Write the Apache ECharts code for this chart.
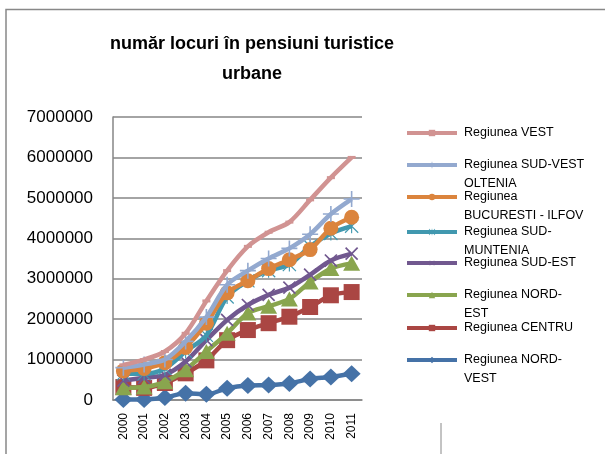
<!DOCTYPE html>
<html>
<head>
<meta charset="utf-8">
<script src="https://cdn.jsdelivr.net/npm/echarts@6/dist/echarts.min.js"></script>
<style>html,body{margin:0;padding:0;background:#fff;}#c{width:605px;height:454px;}</style>
</head>
<body>
<div id="c"></div>
<script>
var categories = ['2000','2001','2002','2003','2004','2005','2006','2007','2008','2009','2010','2011'];
var yTicks = [0, 1000000, 2000000, 3000000, 4000000, 5000000, 6000000, 7000000];

var nordVest    = [10000, 15000, 60000, 170000, 140000, 290000, 360000, 370000, 410000, 520000, 570000, 650000];
var centru      = [320000, 300000, 420000, 660000, 980000, 1480000, 1730000, 1900000, 2060000, 2300000, 2590000, 2670000];
var nordEst     = [300000, 320000, 450000, 750000, 1200000, 1650000, 2150000, 2320000, 2500000, 2920000, 3250000, 3380000];
var sudEst      = [480000, 550000, 620000, 950000, 1480000, 1980000, 2350000, 2600000, 2780000, 3100000, 3450000, 3620000];
var sudMuntenia = [650000, 650000, 780000, 1200000, 1600000, 2550000, 2950000, 3200000, 3350000, 3800000, 4120000, 4300000];
var bucuresti   = [720000, 780000, 920000, 1300000, 1900000, 2650000, 2950000, 3250000, 3470000, 3720000, 4250000, 4520000];
var sudVest     = [800000, 880000, 1000000, 1450000, 2050000, 2850000, 3200000, 3500000, 3750000, 4100000, 4600000, 4970000];
var vest        = [870000, 1000000, 1200000, 1650000, 2450000, 3200000, 3800000, 4150000, 4400000, 4950000, 5500000, 6000000];

var names = ['Regiunea NORD-VEST','Regiunea CENTRU','Regiunea NORD-EST','Regiunea SUD-EST','Regiunea SUD-MUNTENIA','Regiunea BUCURESTI - ILFOV','Regiunea SUD-VEST OLTENIA','Regiunea VEST'];
var wrapped = {
  'Regiunea VEST': 'Regiunea VEST',
  'Regiunea SUD-VEST OLTENIA': 'Regiunea SUD-VEST\nOLTENIA',
  'Regiunea BUCURESTI - ILFOV': 'Regiunea\nBUCURESTI - ILFOV',
  'Regiunea SUD-MUNTENIA': 'Regiunea SUD-\nMUNTENIA',
  'Regiunea SUD-EST': 'Regiunea SUD-EST',
  'Regiunea NORD-EST': 'Regiunea NORD-\nEST',
  'Regiunea CENTRU': 'Regiunea CENTRU',
  'Regiunea NORD-VEST': 'Regiunea NORD-\nVEST'
};
var legendOrder = ['Regiunea VEST','Regiunea SUD-VEST OLTENIA','Regiunea BUCURESTI - ILFOV','Regiunea SUD-MUNTENIA','Regiunea SUD-EST','Regiunea NORD-EST','Regiunea CENTRU','Regiunea NORD-VEST'];
var legendIconY = [133, 165, 197, 232, 263, 295, 328, 360];

var plusPath = 'path://M9,0h2v9h9v2h-9v9h-2v-9h-9v-2h9z';
var starPath = 'path://M9.2,0h1.6v20h-1.6z M0,1.2L1.2,0L20,18.8L18.8,20Z M18.8,0L20,1.2L1.2,20L0,18.8Z';

var styles = [
  {data: nordVest, color: '#4572A7', symbol: 'diamond', size: [18, 17], rotate: 0},
  {data: centru, color: '#AA4643', symbol: 'rect', size: 16, rotate: 0},
  {data: nordEst, color: '#89A54E', symbol: 'triangle', size: [17, 15], rotate: 0},
  {data: sudEst, color: '#71588F', symbol: plusPath, size: 17, rotate: 45},
  {data: sudMuntenia, color: '#4198AF', symbol: starPath, size: 14, rotate: 0},
  {data: bucuresti, color: '#DB843D', symbol: 'circle', size: 15, rotate: 0},
  {data: sudVest, color: '#93A9CF', symbol: plusPath, size: 16, rotate: 0},
  {data: vest, color: '#D19392', symbol: 'rect', size: [8, 3], rotate: 0}
];

var series = styles.map(function (s, i) {
  return {
    name: names[i],
    type: 'line',
    data: s.data,
    smooth: 0.3,
    symbol: s.symbol,
    symbolSize: s.size,
    symbolRotate: s.rotate,
    showAllSymbol: true,
    lineStyle: {color: s.color, width: 4.5},
    itemStyle: {color: s.color},
    emphasis: {disabled: true},
    animation: false,
    z: 2 + i
  };
});

var legends = legendOrder.map(function (n, i) {
  var label = wrapped[n];
  var multi = label.indexOf('\n') >= 0;
  return {
    data: [{name: n}],
    left: 405,
    top: multi ? legendIconY[i] - 28.5 : legendIconY[i] - 9.5,
    padding: 0,
    itemWidth: 50,
    itemHeight: 8,
    orient: 'vertical',
    lineStyle: {width: 4},
    formatter: function (name) {
      var t = wrapped[name];
      return t.indexOf('\n') >= 0 ? ' \n' + t : t;
    },
    textStyle: {
      fontFamily: 'Liberation Sans',
      fontSize: 12.5,
      color: '#000',
      lineHeight: 19,
      padding: [0, 0, 0, 2]
    },
    selectedMode: false
  };
});

var chart = echarts.init(document.getElementById('c'), null, {renderer: 'canvas'});
chart.setOption({
  backgroundColor: '#fff',
  animation: false,
  title: {
    text: 'număr locuri în pensiuni turistice\nurbane',
    left: 252,
    top: 29,
    padding: 0,
    textAlign: 'center',
    textStyle: {fontFamily: 'Liberation Sans', fontSize: 18, fontWeight: 'bold', color: '#000', lineHeight: 30}
  },
  legend: legends,
  grid: {left: 113, right: 243, top: 117, bottom: 54, containLabel: false},
  xAxis: {
    type: 'category',
    data: categories,
    boundaryGap: true,
    axisLine: {lineStyle: {color: '#868686', width: 1.5}},
    axisTick: {show: false},
    axisLabel: {rotate: 90, fontFamily: 'Liberation Sans', fontSize: 12, color: '#000', margin: 13, interval: 0}
  },
  yAxis: {
    type: 'value',
    min: yTicks[0],
    max: yTicks[yTicks.length - 1],
    interval: yTicks[1] - yTicks[0],
    axisLine: {show: true, lineStyle: {color: '#868686', width: 1.5}},
    axisTick: {show: false},
    splitLine: {lineStyle: {color: '#868686', width: 1.5}},
    axisLabel: {fontFamily: 'Liberation Sans', fontSize: 17, color: '#000', margin: 20, formatter: function (v) { return String(v); }}
  },
  graphic: [
    {type: 'rect', shape: {x: 6, y: 9.5, width: 700, height: 600}, style: {fill: null, stroke: '#888', lineWidth: 1.5}, silent: true, z: -10},
    {type: 'line', shape: {x1: 441, y1: 423, x2: 441, y2: 454}, style: {stroke: '#888', lineWidth: 1}, silent: true}
  ],
  series: series
});
</script>
</body>
</html>
